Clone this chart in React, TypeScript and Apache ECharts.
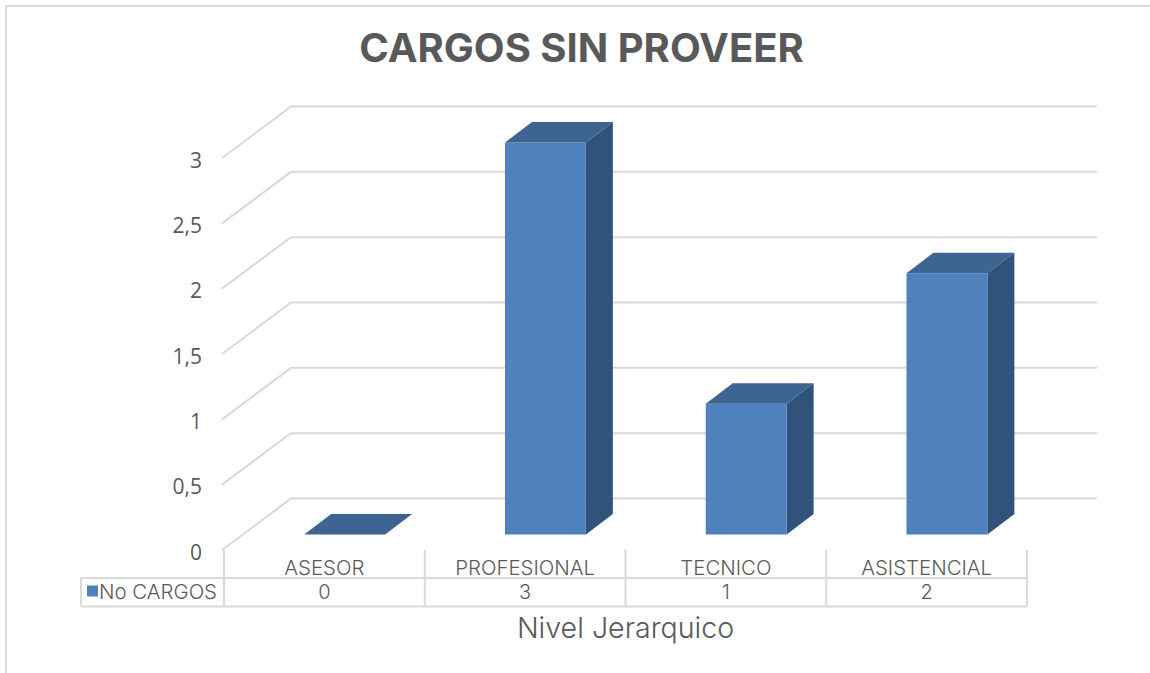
import React, { useEffect, useRef } from "react";
import * as echarts from "echarts";

const TITLE = "CARGOS SIN PROVEER";
const SERIES_NAME = "No CARGOS";
const AXIS_NAME = "Nivel Jerarquico";
const categories = ["ASESOR", "PROFESIONAL", "TECNICO", "ASISTENCIAL"];
const values = [0, 3, 1, 2];
const yTicks = [0, 0.5, 1, 1.5, 2, 2.5, 3];

const GRID = { left: 224, top: 158, width: 803, height: 392 };
const WALL_DX = 67;
const WALL_DY = 51.5;
const BAR_SHIFT_X = 20.3;
const BAR_SHIFT_Y = 15.5;
const BAR_DX = 27;
const BAR_DY = 20.5;
const BAR_RATIO = 0.403;
const GRID_COLOR = "#d9d9d9";
const TEXT_COLOR = "#595959";
const UI_FONT = "Inter";

const line = (x1: number, y1: number, x2: number, y2: number) => ({
  type: "line",
  shape: { x1, y1, x2, y2 },
  style: { stroke: GRID_COLOR, lineWidth: 2 },
  silent: true,
});

export default function App() {
  const ref = useRef<HTMLDivElement>(null);
  useEffect(() => {
    const chart = echarts.init(ref.current!, undefined, { renderer: "svg" });
    const tableLeft = 81;
    const tableTop = 578;
    const tableBottom = 606.5;
    const band = GRID.width / categories.length;
    const right = GRID.left + GRID.width;
    chart.setOption({
      animation: false,
      backgroundColor: "#fff",
      title: {
        text: TITLE,
        left: 576.5,
        top: 22,
        textAlign: "center",
        textStyle: { fontFamily: UI_FONT, fontWeight: 700, fontSize: 40, color: TEXT_COLOR },
      },
      legend: {
        left: 82,
        top: 576,
        icon: "rect",
        itemWidth: 11,
        itemHeight: 11,
        selectedMode: false,
        data: [{ name: SERIES_NAME, itemStyle: { color: "#4f81bd" } }],
        textStyle: { fontFamily: UI_FONT, fontWeight: 300, fontSize: 20.4, color: TEXT_COLOR, padding: [0, 0, 0, -4] },
      },
      grid: GRID,
      xAxis: [
        {
          type: "category",
          data: categories,
          axisLine: { show: false },
          axisTick: { show: false },
          splitLine: { show: false },
          axisLabel: { margin: 7, fontFamily: UI_FONT, fontWeight: 300, fontSize: 20.4, color: TEXT_COLOR, interval: 0 },
        },
        {
          type: "category",
          position: "bottom",
          offset: 24,
          data: values.map(String),
          axisLine: { show: false },
          axisTick: { show: false },
          splitLine: { show: false },
          axisLabel: { margin: 8, fontFamily: UI_FONT, fontWeight: 300, fontSize: 20, color: TEXT_COLOR, interval: 0 },
          name: AXIS_NAME,
          nameLocation: "middle",
          nameGap: 39,
          nameTextStyle: { fontFamily: UI_FONT, fontWeight: 300, fontSize: 28.6, color: TEXT_COLOR },
        },
      ],
      yAxis: {
        type: "value",
        min: 0,
        max: 3,
        interval: 0.5,
        axisLine: { show: false },
        axisTick: { show: false },
        splitLine: { show: false },
        axisLabel: {
          margin: 22,
          color: TEXT_COLOR,
          formatter: (v: number) => "{t|" + String(v).replace(".", ",") + "}",
          rich: {
            t: {
              fontFamily: "Open Sans",
              fontSize: 21,
              color: TEXT_COLOR,
              padding: [3, 0, 0, 0],
            },
          },
        },
      },
      series: [
        {
          type: "custom",
          name: "walls",
          silent: true,
          clip: false,
          z: 1,
          data: yTicks.map((t) => [0, t]),
          renderItem: (params: any, api: any) => {
            const y = api.coord([0, api.value(1)])[1];
            const sys = params.coordSys;
            const style = { stroke: GRID_COLOR, lineWidth: 2, fill: "none" };
            return {
              type: "polyline",
              shape: {
                points: [
                  [sys.x - 2, y],
                  [sys.x + WALL_DX, y - WALL_DY],
                  [sys.x + sys.width + WALL_DX + 3, y - WALL_DY],
                ],
              },
              style,
            };
          },
        },
        {
          type: "custom",
          name: SERIES_NAME,
          silent: true,
          clip: false,
          z: 3,
          itemStyle: { color: "#4f81bd" },
          data: values.map((v, i) => [i, v]),
          renderItem: (_: any, api: any) => {
            const base = api.coord([api.value(0), 0]);
            const top = api.coord([api.value(0), api.value(1)]);
            const w = api.size([1, 0])[0] * BAR_RATIO;
            const x0 = base[0] + BAR_SHIFT_X - w / 2;
            const x1 = x0 + w;
            const yb = base[1] - BAR_SHIFT_Y;
            const yt = top[1] - BAR_SHIFT_Y;
            const children: any[] = [];
            if (yb - yt > 0) {
              children.push({
                type: "polygon",
                shape: { points: [[x1, yt], [x1 + BAR_DX, yt - BAR_DY], [x1 + BAR_DX, yb - BAR_DY], [x1, yb]] },
                style: { fill: "#31527a" },
              });
              children.push({
                type: "rect",
                shape: { x: x0, y: yt, width: w, height: yb - yt },
                style: { fill: "#4f81bd" },
              });
            }
            children.push({
              type: "polygon",
              shape: { points: [[x0, yt], [x0 + BAR_DX, yt - BAR_DY], [x1 + BAR_DX, yt - BAR_DY], [x1, yt]] },
              style: { fill: "#3e6491" },
            });
            return { type: "group", children };
          },
        },
      ],
      graphic: [
        line(6, 6, 1150, 6),
        line(6, 6, 6, 673),
        line(tableLeft, tableTop, right, tableTop),
        line(tableLeft, tableBottom, right, tableBottom),
        line(tableLeft, tableTop, tableLeft, tableBottom),
        ...categories
          .map((_, i) => GRID.left + band * i)
          .concat(right)
          .map((x) => line(x, GRID.top + GRID.height, x, tableBottom)),
      ],
    });
    return () => chart.dispose();
  }, []);
  return <div ref={ref} style={{ position: "fixed", left: 0, top: 0, width: 1150, height: 673 }} />;
}
